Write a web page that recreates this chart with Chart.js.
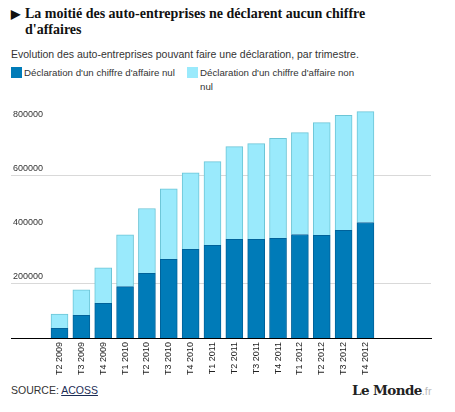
<!DOCTYPE html>
<html>
<head>
<meta charset="utf-8">
<script src="https://cdn.jsdelivr.net/npm/chart.js@4.4.1/dist/chart.umd.min.js"></script>
<style>
  body { margin: 0; background: #fff; width: 455px; height: 412px; position: relative; overflow: hidden; font-family: "Liberation Sans", Arial, sans-serif; }
  .title { position: absolute; left: 11px; top: 6px; width: 440px; font-family: "Liberation Serif", serif; font-weight: bold; font-size: 14px; line-height: 16px; color: #111; }
  .title .arrow { position: absolute; left: 0; top: 0; font-size: 12px; }
  .title .txt { display: block; margin-left: 14px; width: 400px; }
  .sub { position: absolute; left: 11px; top: 48px; font-size: 10.5px; color: #333; }
  .legend { position: absolute; left: 11px; top: 66px; font-size: 9.7px; color: #333; line-height: 14px; }
  .item { position: absolute; top: 0; white-space: nowrap; }
  .sw { position: absolute; left: 0; top: 1px; width: 11px; height: 11px; }
  .lbl { position: absolute; left: 13px; top: 0; }
  #wrap { position: absolute; left: 0; top: 90px; width: 455px; height: 290px; }
  #wrap canvas { display: block; }
  .src { position: absolute; left: 11px; top: 384px; font-size: 10.5px; color: #333; }
  .src a { color: #1b2c55; text-decoration: underline; }
  .logo { position: absolute; left: 352px; top: 382px; font-family: "DejaVu Serif", serif; font-weight: bold; font-size: 13.5px; color: #222; letter-spacing: -0.6px; }
  .logo span { color: #bbb; font-family: "Liberation Sans", sans-serif; font-weight: normal; font-size: 11px; letter-spacing: 0; }
</style>
</head>
<body>
<div class="title"><span class="arrow">&#9654;</span><span class="txt">La moitié des auto-entreprises ne déclarent aucun chiffre d'affaires</span></div>
<div class="sub">Evolution des auto-entreprises pouvant faire une déclaration, par trimestre.</div>
<div class="legend">
  <div class="item" style="left:0"><div class="sw" style="background:#007bb8"></div><div class="lbl">Déclaration d'un chiffre d'affaire nul</div></div>
  <div class="item" style="left:176px"><div class="sw" style="background:#9aeafc"></div><div class="lbl">Déclaration d'un chiffre d'affaire non<br>nul</div></div>
</div>
<div id="wrap"><canvas id="chart" width="455" height="290"></canvas></div>
<div class="src">SOURCE: <a>ACOSS</a></div>
<div class="logo">Le Monde<span>.fr</span></div>
<script>
// trimestres
const quarters = ['T2 2009', 'T3 2009', 'T4 2009', 'T1 2010', 'T2 2010', 'T3 2010', 'T4 2010',
  'T1 2011', 'T2 2011', 'T3 2011', 'T4 2011', 'T1 2012', 'T2 2012', 'T3 2012', 'T4 2012'];

// chiffre d'affaire nul / non nul
const nul = [35600, 83700, 128100, 190000, 239300, 291100, 328200, 343000, 365200, 365000, 368900, 382600, 380000, 398500, 427000];
const nonNul = [53300, 94100, 131200, 191500, 239600, 260800, 282900, 308900, 342200, 353500, 369200, 376700, 416300, 424800, 410000];

const yTicks = [200000, 400000, 600000, 800000];
const yGrid = [200000, 600000];

const toPoints = (arr) => arr.map((v, i) => ({ x: i, y: v }));

const ctx = document.getElementById('chart');
new Chart(ctx, {
  type: 'bar',
  data: {
    datasets: [
      {
        label: "Déclaration d'un chiffre d'affaire nul",
        data: toPoints(nul),
        backgroundColor: '#007bb8',
        borderColor: '#00629a',
        borderWidth: 1,
        barThickness: 17
      },
      {
        label: "Déclaration d'un chiffre d'affaire non nul",
        data: toPoints(nonNul),
        backgroundColor: '#9aeafc',
        borderColor: '#6cc5d6',
        borderWidth: 1,
        barThickness: 17
      }
    ]
  },
  options: {
    responsive: false,
    animation: false,
    devicePixelRatio: 1,
    layout: { padding: { left: 7, right: 24, top: 10, bottom: 0 } },
    plugins: {
      legend: { display: false },
      tooltip: { enabled: false }
    },
    scales: {
      x: {
        type: 'linear',
        stacked: true,
        min: -2.22,
        max: 17,
        offset: false,
        grid: { display: false, drawTicks: false },
        border: { display: true, color: '#000', width: 1 },
        afterFit: (scale) => { scale.height = 42; },
        ticks: {
          stepSize: 1,
          includeBounds: false,
          autoSkip: false,
          maxRotation: 90,
          minRotation: 90,
          padding: 4,
          color: '#222',
          font: { family: '"Liberation Sans", Arial, sans-serif', size: 9 },
          callback: (v) => {
            const i = Math.round(v);
            return (Math.abs(v - i) < 1e-6 && i >= 0 && i < quarters.length) ? quarters[i] : '';
          }
        }
      },
      y: {
        stacked: true,
        min: 0,
        max: 880000,
        border: { display: false },
        // ticks fixes (stepSize ne tombe pas juste avec max 880000)
        afterBuildTicks: (scale) => { scale.ticks = yTicks.map((v) => ({ value: v })); },
        grid: {
          drawTicks: false,
          color: (c) => (c.tick && yGrid.includes(c.tick.value)) ? '#d9d9d9' : 'rgba(0,0,0,0)'
        },
        ticks: {
          mirror: true,
          padding: 2,
          labelOffset: -7,
          color: '#333',
          font: { family: '"Liberation Sans", Arial, sans-serif', size: 9 },
          callback: (v) => String(v)
        }
      }
    }
  }
});
</script>
</body>
</html>
